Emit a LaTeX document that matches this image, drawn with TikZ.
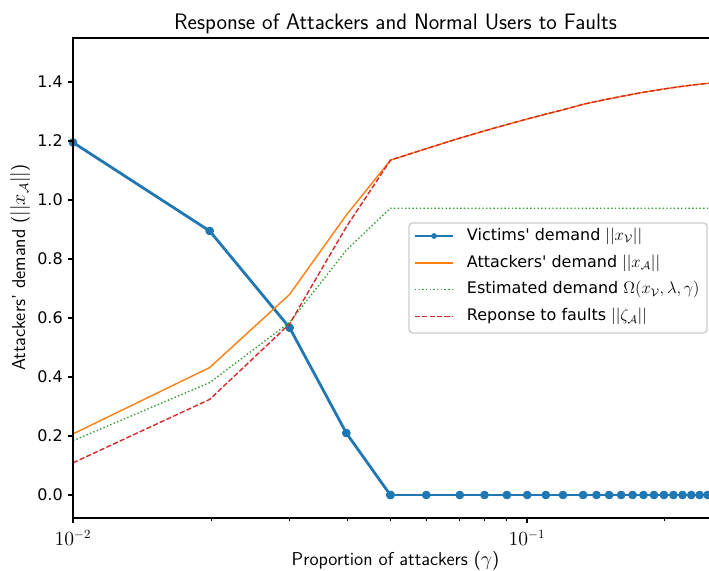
\documentclass[tikz,border=0pt]{standalone}
\usepackage[no-math]{fontspec}
\newfontfamily\dvsans[Ligatures=TeXOff]{DejaVu Sans}

\definecolor{tabblue}{HTML}{1F77B4}
\definecolor{taborange}{HTML}{FF7F0E}
\definecolor{tabgreen}{HTML}{2CA02C}
\definecolor{tabred}{HTML}{D62728}

\tikzset{
  victims/.style={tabblue, line width=2pt, line join=round},
  attackers/.style={taborange, line width=1pt, line join=round},
  estimated/.style={tabgreen, line width=1pt, dash pattern=on 1pt off 1.65pt},
  faults/.style={tabred, line width=1pt, dash pattern=on 3.7pt off 1.6pt},
  spine/.style={line width=0.8pt},
}

\begin{document}
\begin{tikzpicture}[
        x=326.88pt, y=212.4pt, font=\dvsans\fontsize{11.5}{13.8}\selectfont,
        declare function={
          vAtk(\g)=1.9364+0.255*ln(\g)-0.75*\g;
        }]
  \useasboundingbox (-2.16079,-0.25763) rectangle (-0.59912,1.67797);

  % victims' demand -----------------------------------------
  \draw[victims] plot[mark=*, mark size=2.1pt]
        coordinates {(-2,1.195) (-1.69897,0.895) (-1.52288,0.567) (-1.39794,0.21) (-1.30103,0)};
  \draw[victims] plot[mark=*, mark size=2.1pt, variable=\k, samples at={5,...,26}]
        ({log10(\k/100)},0);

  % attackers' demand, estimate and response ---------------
  \draw[attackers] plot coordinates {(-2,0.207) (-1.69897,0.432) (-1.52288,0.680) (-1.39794,0.949)}
        -- plot[variable=\k, samples at={5,...,26}] ({log10(\k/100)},{vAtk(\k/100)});
  \draw[estimated] plot coordinates {(-2,0.184) (-1.69897,0.381) (-1.52288,0.585) (-1.39794,0.83)
        (-1.30103,0.972) (-0.55,0.972)};
  \draw[faults] plot coordinates {(-2,0.109) (-1.69897,0.324) (-1.52288,0.58) (-1.39794,0.909)}
        -- plot[variable=\k, samples at={5,...,26}] ({log10(\k/100)},{vAtk(\k/100)});

  % axes ----------------------------------------------------
  \draw[spine] (-0.55,1.5492) -- (-2,1.5492) -- (-2,-0.078) -- (-0.55,-0.078);
  \foreach \y [count=\i] in {0.0,0.2,0.4,0.6,0.8,1.0,1.2,1.4}
    \draw[spine] (-2,\y) -- ++(-3.5pt,0) node[left=3.5pt, inner sep=0pt] (yt\i) {\y};
  \foreach \k in {2,...,9,20}
    \draw[line width=0.6pt] ({log10(\k/100)},-0.078) -- ++(0,-2pt);
  \foreach \e/\lbl in {-2/{10^{-2}},-1/{10^{-1}}}
    \draw[spine] (\e,-0.078) -- ++(0,-3.5pt)
      node[below=5pt, inner sep=0pt, font=\rmfamily\fontsize{13.4}{15}\selectfont] (xt\e) {$\lbl$};

  % labels --------------------------------------------------
  \node[font=\sffamily\fontsize{16.1}{19}\selectfont, anchor=base] (title) at (-1.2896,1.578)
        {Response of Attackers and Normal Users to Faults};
  \node[font=\sffamily\fontsize{13.4}{15}\selectfont] (xlab) at (-1.2896,-0.2237)
        {Proportion of attackers ($\gamma$)};
  \node[font=\sffamily\fontsize{13.4}{15}\selectfont, rotate=90] (ylab) at (-2.1167,0.77)
        {Attackers' demand ($||x_{\mathcal{A}}||$)};

  % legend --------------------------------------------------
  \draw[draw=black!20, fill=white, fill opacity=0.8, rounded corners=2.5pt, line width=1pt]
        (-1.2599,0.5492) rectangle (-0.6035,0.9220);
  \foreach \sty/\txt [count=\i] in {
      victims/{Victims' demand $||x_{\mathcal{V}}||$},
      attackers/{Attackers' demand $||x_{\mathcal{A}}||$},
      estimated/{Estimated demand $\Omega(x_{\mathcal{V}},\lambda,\gamma)$},
      faults/{Reponse to faults $||\zeta_{\mathcal{A}}||$}} {
    \draw[\sty] (-1.2467,{0.9692-0.0912*\i}) -- (-1.1630,{0.9692-0.0912*\i});
    \node[anchor=west, inner sep=0pt] (lg\i) at (-1.1328,{0.9692-0.0912*\i}) {\txt};
  }
  \fill[tabblue] (-1.2048,0.878) circle (2.1pt);

\end{tikzpicture}
\end{document}
